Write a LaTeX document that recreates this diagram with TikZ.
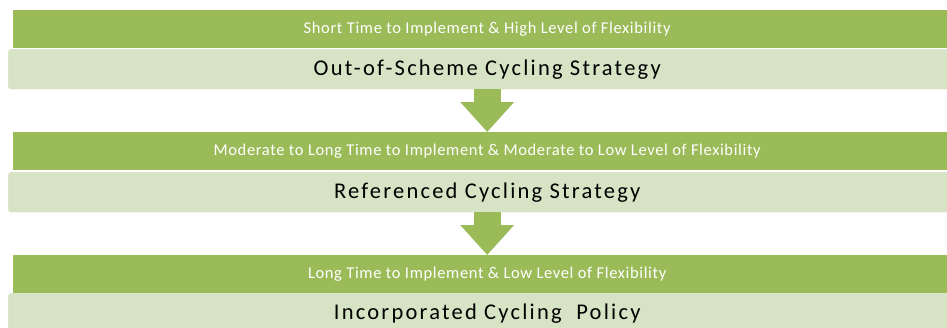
\documentclass[tikz,border=0pt]{standalone}
\usepackage{fontspec}
\setmainfont{Carlito}
\newfontfamily\headfont[LetterSpace=3.9]{Carlito}
\newfontfamily\boxfont[LetterSpace=9.9]{Carlito}
\usetikzlibrary{arrows.meta}
\usetikzlibrary{positioning}

\definecolor{bandgreen}{HTML}{9BBB59}
\definecolor{boxgreen}{HTML}{D7E3C5}

\begin{document}
\begin{tikzpicture}[
    x = 1pt, y = -1pt,
    header/.style = {
      fill = bandgreen, text = white,
      minimum width = 948pt, minimum height = 38pt,
      inner sep = 0pt, anchor = north west,
      font = \headfont\fontsize{16.5}{19}\selectfont,
    },
    strategy/.style = {
      fill = boxgreen, draw = boxgreen!70!white, rounded corners = 3pt,
      minimum width = 958pt, minimum height = 40pt,
      inner sep = 0pt, anchor = north west,
      font = \boxfont\fontsize{22.5}{26}\selectfont,
    },
    down/.style = {
      draw = bandgreen, line width = 27pt,
      -{Triangle[width = 52pt, length = 30pt]},
    },
  ]

  \useasboundingbox (0,0) rectangle (947,327);

  \node[header] (H1) at (13,10)
    {Short Time to Implement \& High Level of Flexibility};
  \node[strategy] (S1) at (8,49) {Out-of-Scheme Cycling Strategy};

  \node[header] (H2) at (13,132)
    {Moderate to Long Time to Implement \& Moderate to Low Level of Flexibility};
  \node[strategy] (S2) at (8,172) {Referenced Cycling Strategy};

  \node[header] (H3) at (13,255)
    {Long Time to Implement \& Low Level of Flexibility};
  \node[strategy] (S3) at (8,293) {Incorporated Cycling\ \ Policy};

  \draw[down] (S1.south) -- (H2.north);
  \draw[down] (S2.south) -- (H3.north);
\end{tikzpicture}
\end{document}
